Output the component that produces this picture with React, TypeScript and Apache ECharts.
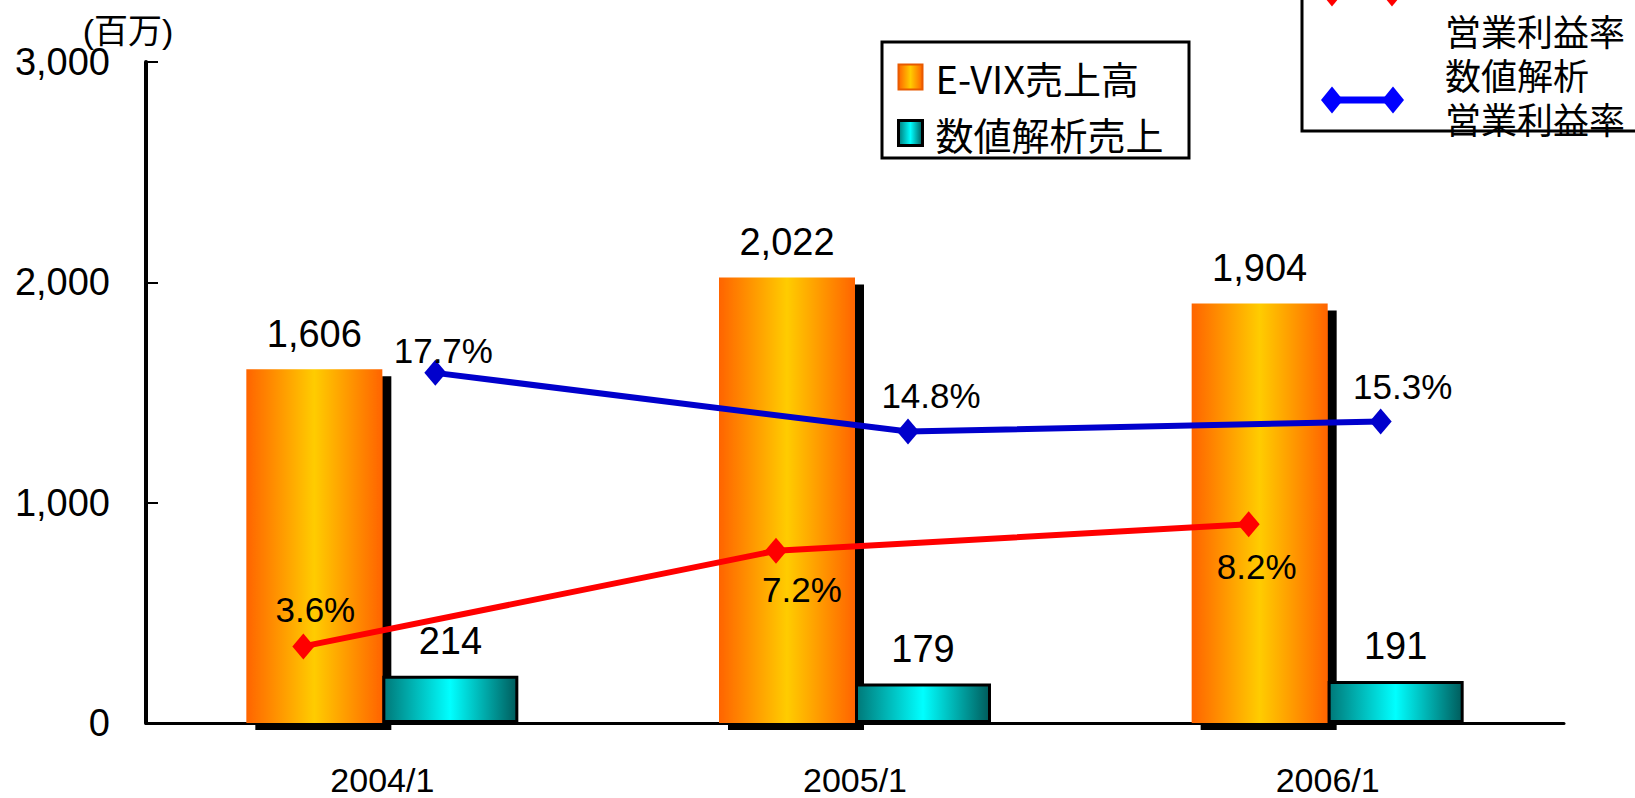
import React, { useEffect, useRef } from "react";
import * as echarts from "echarts";

// Fiscal periods on the category axis
const categories = ["2004/1", "2005/1", "2006/1"];
// Sales, in millions of yen
const evixSales = [1606, 2022, 1904];
const analysisSales = [214, 179, 191];
// Operating margins, in percent
const evixMargin = [3.6, 7.2, 8.2];
const analysisMargin = [17.7, 14.8, 15.3];
// Left axis range
const salesAxisMin = 0;
const salesAxisMax = 3000;
const salesAxisStep = 1000;

const W = 1635;
const H = 798;
const LATIN = "'Liberation Sans', Arial, 'Noto Sans CJK JP', sans-serif";
const CJK = "'Noto Sans CJK JP', 'Liberation Sans', sans-serif";

const fmtThousands = (v: number) => Number(v).toLocaleString("en-US");

const orangeFill = new echarts.graphic.LinearGradient(0, 0, 1, 0, [
  { offset: 0, color: "#FF6400" },
  { offset: 0.5, color: "#FFCC00" },
  { offset: 1, color: "#FF6400" },
]);
const cyanFill = new echarts.graphic.LinearGradient(0, 0, 1, 0, [
  { offset: 0, color: "#007878" },
  { offset: 0.5, color: "#00FFFF" },
  { offset: 1, color: "#005C5C" },
]);

// per-point label placement of the margin values (relative to the marker)
const analysisLabelOffsets = [
  [8, -22],
  [23, -36],
  [22, -35],
];
const evixLabelOffsets = [
  [12, -37],
  [26, 39],
  [8, 42],
];

const diamond = (cx: number, cy: number, w: number, h: number) => [
  [cx, cy - h / 2],
  [cx + w / 2, cy],
  [cx, cy + h / 2],
  [cx - w / 2, cy],
];

const legendLine = (text: string, y: number) => ({
  type: "text",
  x: 1445,
  y,
  style: {
    text,
    fontSize: 36,
    lineHeight: 40,
    fontFamily: CJK,
    fill: "#000",
    verticalAlign: "middle",
    align: "left",
  },
});

export default function App() {
  const ref = useRef<HTMLDivElement>(null);

  useEffect(() => {
    if (!ref.current) return;
    const chart = echarts.init(ref.current, undefined, { renderer: "svg" });

    const pctLabel = (offsets: number[][]) => (v: number, i: number) => ({
      value: v,
      label: { offset: offsets[i] },
    });

    const pctLabelStyle = {
      show: true,
      position: "inside",
      fontSize: 35,
      fontFamily: LATIN,
      color: "#000",
      textBorderWidth: 0,
      formatter: (p: any) => `${p.value.toFixed(1)}%`,
    };

    const salesLabelStyle = {
      show: true,
      position: "top",
      distance: 16,
      fontSize: 38,
      fontFamily: LATIN,
      color: "#000",
      formatter: (p: any) => fmtThousands(p.value),
    };

    chart.setOption({
      animation: false,
      backgroundColor: "#ffffff",
      grid: [
        // bars
        { left: 146, right: 71, top: 62, bottom: 75 },
        // 数値解析 margin line
        { left: 199, right: 18, top: 124, bottom: 67 },
        // E-VIX margin line
        { left: 67, right: 150, top: 78, bottom: 56 },
      ],
      xAxis: [
        {
          type: "category",
          gridIndex: 0,
          data: categories,
          axisLine: { lineStyle: { color: "#000", width: 3 } },
          axisTick: { inside: true, length: 12, lineStyle: { color: "#000", width: 2 } },
          axisLabel: { margin: 40, fontSize: 34, color: "#000", fontFamily: LATIN },
        },
        { type: "category", gridIndex: 1, data: categories, show: false },
        { type: "category", gridIndex: 2, data: categories, show: false },
      ],
      yAxis: [
        {
          type: "value",
          gridIndex: 0,
          min: salesAxisMin,
          max: salesAxisMax,
          interval: salesAxisStep,
          splitLine: { show: false },
          axisLine: { show: true, lineStyle: { color: "#000", width: 4 } },
          axisTick: { show: true, inside: true, length: 12, lineStyle: { color: "#000", width: 2 } },
          axisLabel: {
            margin: 36,
            fontSize: 38,
            color: "#000",
            fontFamily: LATIN,
            formatter: fmtThousands,
          },
        },
        { type: "value", gridIndex: 1, min: 0, max: 30, show: false },
        { type: "value", gridIndex: 2, min: 0, max: 25, show: false },
      ],
      legend: {
        orient: "vertical",
        left: 897,
        top: 55,
        padding: 0,
        itemWidth: 24,
        itemHeight: 25,
        itemGap: 12,
        selectedMode: false,
        textStyle: {
          fontSize: 38,
          lineHeight: 44,
          color: "#000",
          fontFamily: CJK,
          padding: [0, 0, 0, 8],
        },
        data: [
          {
            name: "E-VIX売上高",
            icon: "rect",
            itemStyle: {
              color: orangeFill,
              borderColor: "#E85A00",
              borderWidth: 2,
              shadowColor: "transparent",
              shadowOffsetX: 0,
              shadowOffsetY: 0,
            },
          },
          {
            name: "数値解析売上",
            icon: "rect",
            itemStyle: { color: cyanFill, borderColor: "#000", borderWidth: 3 },
          },
        ],
      },
      graphic: [
        // frame around the bar legend
        {
          type: "rect",
          shape: { x: 882, y: 42, width: 307, height: 116 },
          style: { fill: "transparent", stroke: "#000", lineWidth: 3 },
          z: 1,
        },
        // margin legend (top right)
        {
          type: "group",
          z: 10,
          children: [
            {
              type: "rect",
              shape: { x: 1302, y: -20, width: 400, height: 151 },
              style: { fill: "#fff", stroke: "#000", lineWidth: 3 },
            },
            {
              type: "line",
              shape: { x1: 1332, y1: -7, x2: 1392, y2: -7 },
              style: { stroke: "#FF0000", lineWidth: 7 },
            },
            { type: "polygon", shape: { points: diamond(1332, -7, 22, 27) }, style: { fill: "#FF0000" } },
            { type: "polygon", shape: { points: diamond(1392, -7, 22, 27) }, style: { fill: "#FF0000" } },
            {
              type: "line",
              shape: { x1: 1332, y1: 100, x2: 1393, y2: 100 },
              style: { stroke: "#0000FF", lineWidth: 7 },
            },
            { type: "polygon", shape: { points: diamond(1332, 100, 22, 27) }, style: { fill: "#0000FF" } },
            { type: "polygon", shape: { points: diamond(1393, 100, 22, 27) }, style: { fill: "#0000FF" } },
            legendLine("E-VIX", -22),
            legendLine("営業利益率", 30),
            legendLine("数値解析", 74),
            legendLine("営業利益率", 118),
          ],
        },
        // unit of the sales axis
        {
          type: "text",
          x: 128,
          y: 31,
          style: {
            text: "(百万)",
            fontSize: 34,
            fontFamily: LATIN,
            fill: "#000",
            align: "center",
            verticalAlign: "middle",
          },
        },
      ],
      series: [
        {
          name: "E-VIX売上高",
          type: "bar",
          xAxisIndex: 0,
          yAxisIndex: 0,
          data: evixSales,
          barWidth: 136,
          barGap: "0%",
          itemStyle: {
            color: orangeFill,
            shadowColor: "#000",
            shadowBlur: 0,
            shadowOffsetX: 9,
            shadowOffsetY: 7,
          },
          label: salesLabelStyle,
          z: 2,
        },
        {
          name: "数値解析売上",
          type: "bar",
          xAxisIndex: 0,
          yAxisIndex: 0,
          data: analysisSales,
          barWidth: 136,
          barGap: "0%",
          itemStyle: { color: cyanFill, borderColor: "#000", borderWidth: 3 },
          label: salesLabelStyle,
          z: 3,
        },
        {
          name: "数値解析営業利益率",
          type: "line",
          xAxisIndex: 1,
          yAxisIndex: 1,
          data: analysisMargin.map(pctLabel(analysisLabelOffsets)),
          symbol: "diamond",
          symbolSize: [22, 26],
          lineStyle: { color: "#0000CC", width: 6 },
          itemStyle: { color: "#0000CC" },
          label: pctLabelStyle,
          z: 5,
        },
        {
          name: "E-VIX営業利益率",
          type: "line",
          xAxisIndex: 2,
          yAxisIndex: 2,
          data: evixMargin.map(pctLabel(evixLabelOffsets)),
          symbol: "diamond",
          symbolSize: [22, 26],
          lineStyle: { color: "#FF0000", width: 6 },
          itemStyle: { color: "#FF0000" },
          label: pctLabelStyle,
          z: 5,
        },
      ],
    });

    return () => chart.dispose();
  }, []);

  return (
    <div
      ref={ref}
      style={{ position: "fixed", left: 0, top: 0, width: W, height: H, background: "#fff" }}
    />
  );
}
